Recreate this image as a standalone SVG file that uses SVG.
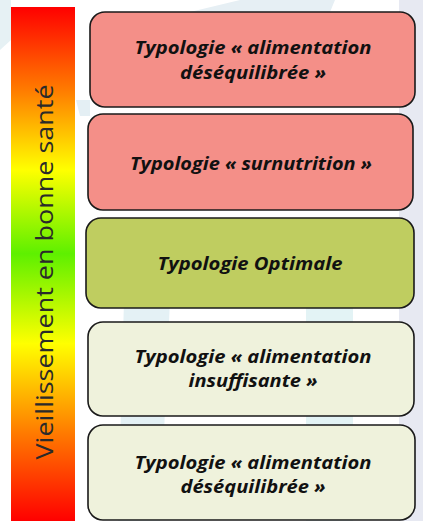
<svg xmlns="http://www.w3.org/2000/svg" width="423" height="521" viewBox="0 0 423 521">
<defs>
<linearGradient id="bar" x1="0" y1="0" x2="0" y2="1">
<stop offset="0" stop-color="#ff0000"/>
<stop offset="0.16" stop-color="#ff7a00"/>
<stop offset="0.317" stop-color="#ffff00"/>
<stop offset="0.48" stop-color="#5ef000"/>
<stop offset="0.655" stop-color="#ffff00"/>
<stop offset="0.83" stop-color="#ff7a00"/>
<stop offset="1" stop-color="#ff0000"/>
</linearGradient>
<style>
.box{stroke:#1a1a1a;stroke-width:1.6}
.red{fill:#f48f88}
.grn{fill:#bfcd60}
.pale{fill:#eff2dc}
.t{font-family:"Open Sans","Liberation Sans",sans-serif;font-weight:bold;font-style:italic;font-size:17.5px;fill:#111;text-anchor:middle}
</style>
</defs>
<rect width="423" height="521" fill="#ffffff"/>
<g id="background">
<rect x="399" y="0" width="24" height="521" fill="#e7e9f2"/>
<polygon points="190,12 240,0 335,0 330,12" fill="#e6eff4"/>
<polygon points="118,521 124,300 170,300 160,521" fill="#e4f1f5"/>
<rect x="306" y="300" width="47" height="221" fill="#e3f3f5"/>
<polygon points="0,0 11,0 11,40 0,50" fill="#e6f1f4"/>
<polygon points="76,100 90,100 90,116 80,116" fill="#e4eff4"/>
</g>
<g id="scale">
<rect x="11" y="7" width="64" height="514" fill="url(#bar)"/>
<text transform="translate(53,272) rotate(-90)" font-family="'Open Sans','Liberation Sans',sans-serif" font-size="24" fill="#2a2a2a" text-anchor="middle" textLength="375" lengthAdjust="spacingAndGlyphs">Vieillissement  en bonne santé</text>
</g>
<g id="box1">
<rect class="box red" x="90" y="12" width="325" height="95" rx="15"/>
<text class="t" x="253" y="54" textLength="237" lengthAdjust="spacingAndGlyphs">Typologie « alimentation</text>
<text class="t" x="253" y="79" textLength="146" lengthAdjust="spacingAndGlyphs">déséquilibrée »</text>
</g>
<g id="box2">
<rect class="box red" x="88" y="114" width="325" height="96" rx="15"/>
<text class="t" x="251" y="170" textLength="242" lengthAdjust="spacingAndGlyphs">Typologie « surnutrition »</text>
</g>
<g id="box3">
<rect class="box grn" x="86" y="218" width="328" height="90" rx="15"/>
<text class="t" x="250" y="270" textLength="185" lengthAdjust="spacingAndGlyphs">Typologie Optimale</text>
</g>
<g id="box4">
<rect class="box pale" x="88" y="322" width="326" height="94" rx="15"/>
<text class="t" x="253" y="363" textLength="237" lengthAdjust="spacingAndGlyphs">Typologie « alimentation</text>
<text class="t" x="253" y="387" textLength="129" lengthAdjust="spacingAndGlyphs">insuffisante »</text>
</g>
<g id="box5">
<rect class="box pale" x="88" y="425" width="327" height="95" rx="15"/>
<text class="t" x="253" y="469" textLength="237" lengthAdjust="spacingAndGlyphs">Typologie « alimentation</text>
<text class="t" x="253" y="493" textLength="145" lengthAdjust="spacingAndGlyphs">déséquilibrée »</text>
</g>
</svg>
